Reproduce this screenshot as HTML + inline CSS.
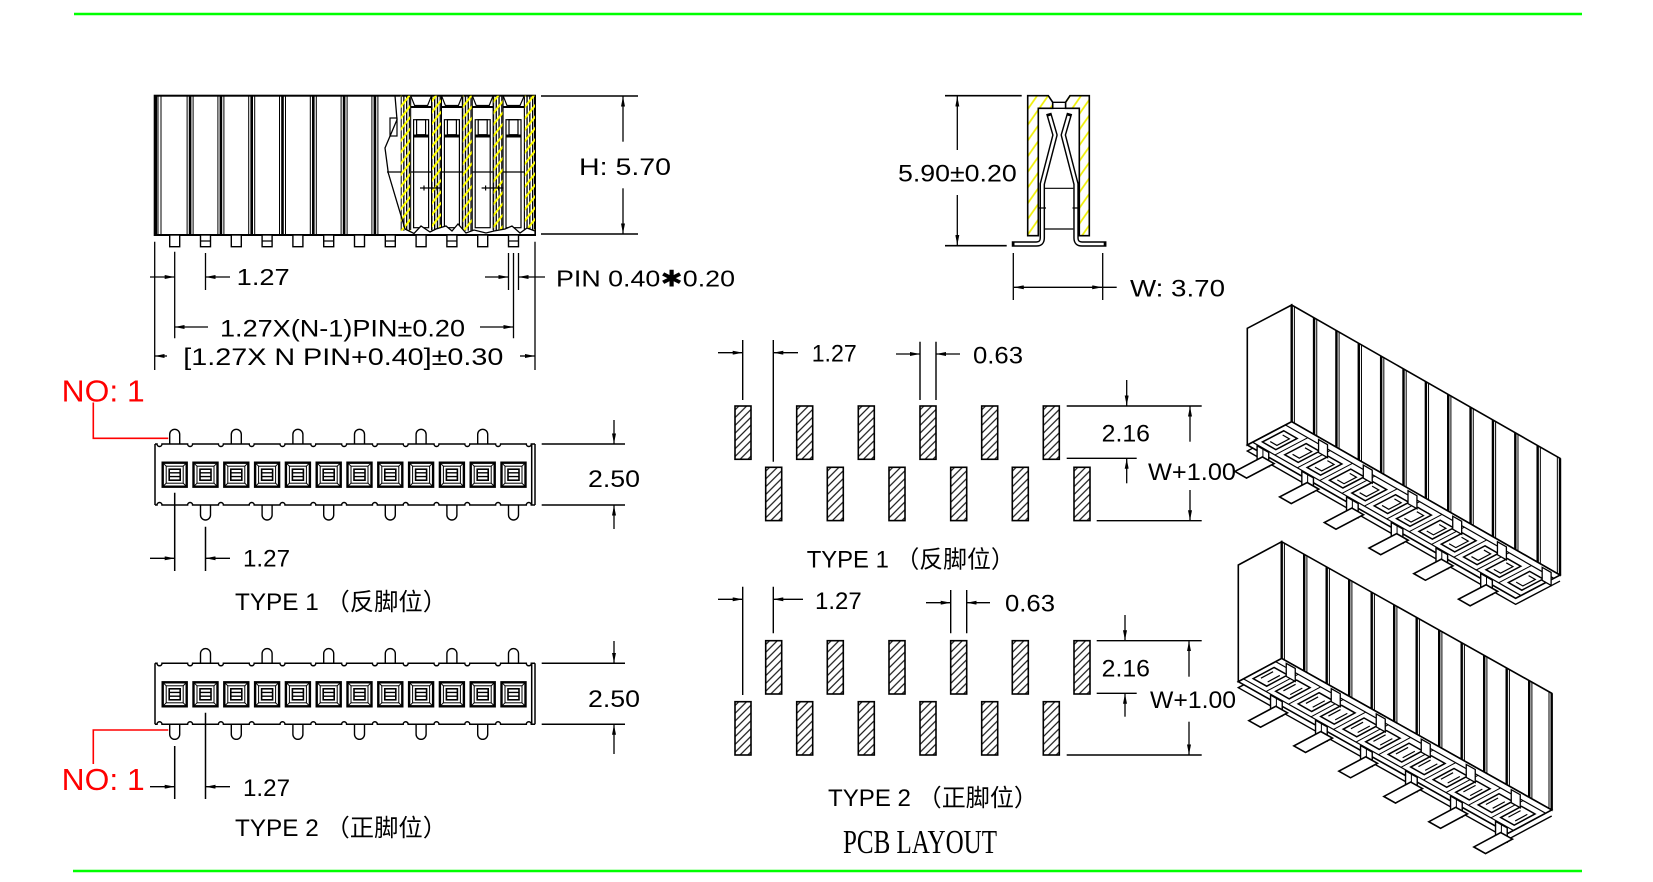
<!DOCTYPE html>
<html><head><meta charset="utf-8">
<style>
html,body{margin:0;padding:0;background:#fff}
svg{display:block}
.ns *{vector-effect:non-scaling-stroke}
</style></head>
<body>
<svg width="1653" height="882" viewBox="0 0 1653 882" xmlns="http://www.w3.org/2000/svg">
<defs>
  <marker id="ar" viewBox="0 0 10 4" refX="10" refY="2" markerWidth="10" markerHeight="4" markerUnits="userSpaceOnUse" orient="auto">
    <path d="M0,0 L10,2 L0,4 z" fill="#000"/>
  </marker>
  <pattern id="ph" width="5.5" height="5.5" patternUnits="userSpaceOnUse" patternTransform="rotate(45)">
    <line x1="2.75" y1="0" x2="2.75" y2="5.5" stroke="#000" stroke-width="1.1"/>
  </pattern>
  <pattern id="py" width="7" height="7" patternUnits="userSpaceOnUse" patternTransform="rotate(38)">
    <line x1="3.5" y1="0" x2="3.5" y2="7" stroke="#ffff00" stroke-width="2"/>
  </pattern>
  <pattern id="py2" width="9" height="9" patternUnits="userSpaceOnUse" patternTransform="rotate(35)">
    <line x1="4.5" y1="0" x2="4.5" y2="9" stroke="#f0f000" stroke-width="1.7"/>
  </pattern>
  <pattern id="pv" width="2.8" height="10" patternUnits="userSpaceOnUse">
    <rect x="0" y="0" width="1.3" height="10" fill="#000"/>
  </pattern>
  <g id="sk" stroke="#000" fill="none">
    <rect x="-12" y="-12" width="24" height="24" stroke-width="2.4" fill="#fff"/>
    <rect x="-8.5" y="-8.5" width="17" height="17" stroke-width="1"/>
    <path d="M-12,-12 L-8.5,-8.5 M12,-12 L8.5,-8.5 M-12,12 L-8.5,8.5 M12,12 L8.5,8.5" stroke-width="1"/>
    <rect x="-5.5" y="-5.5" width="11" height="11" stroke-width="1.6"/>
    <path d="M-5.5,-1.9 H5.5 M-5.5,1.9 H5.5" stroke-width="1.4"/>
  </g>
  <path id="pu" d="M-5,0 V-9.7 A5,5 0 0 1 5,-9.7 V0" fill="#fff" stroke="#000" stroke-width="1.4"/>
  <path id="pdn" d="M-5,0 V10 A5,5 0 0 0 5,10 V0" fill="#fff" stroke="#000" stroke-width="1.4"/>
  <rect id="fp" x="-5" y="0" width="10" height="11.7" fill="#fff" stroke="#000" stroke-width="1.4"/>
  <rect id="pd" x="0" y="0" width="16" height="53.3" fill="url(#ph)" stroke="#000" stroke-width="1.6"/>
  <path id="nt" fill="none" stroke="#000" stroke-width="1.5" d="M155,0 H157 a2.5,2.5 0 0 0 5,0 H187.6 a2.5,2.5 0 0 0 5,0 H218.4 a2.5,2.5 0 0 0 5,0 H249.2 a2.5,2.5 0 0 0 5,0 H280 a2.5,2.5 0 0 0 5,0 H310.8 a2.5,2.5 0 0 0 5,0 H341.6 a2.5,2.5 0 0 0 5,0 H372.4 a2.5,2.5 0 0 0 5,0 H403.2 a2.5,2.5 0 0 0 5,0 H434 a2.5,2.5 0 0 0 5,0 H464.8 a2.5,2.5 0 0 0 5,0 H495.6 a2.5,2.5 0 0 0 5,0 H526.3 a2.5,2.5 0 0 0 5,0 H535"/>
</defs>

<rect width="1653" height="882" fill="#fff"/>

<!-- green rules -->
<line x1="74" y1="14" x2="1582" y2="14" stroke="#00ff00" stroke-width="2.5"/>
<line x1="73" y1="871" x2="1582" y2="871" stroke="#00ff00" stroke-width="2.5"/>

<!-- ============ FRONT VIEW ============ -->
<g stroke="#000" fill="none">
  <rect x="154.7" y="95.7" width="380.3" height="139.3" stroke-width="2" fill="#fff"/>
  <path stroke-width="1" d="M158,95.7V235 M161,95.7V235 M187.1,95.7V235 M193.1,95.7V235 M217.9,95.7V235 M223.9,95.7V235 M248.7,95.7V235 M254.7,95.7V235 M279.5,95.7V235 M285.5,95.7V235 M310.3,95.7V235 M316.3,95.7V235 M341.1,95.7V235 M347.1,95.7V235 M371.9,95.7V235 M377.9,95.7V235"/>
  <path stroke-width="2.6" d="M155.8,95.7V235 M190.1,95.7V235 M220.9,95.7V235 M251.7,95.7V235 M282.5,95.7V235 M313.3,95.7V235 M344.1,95.7V235 M374.9,95.7V235"/>

  <!-- cutaway walls -->
  <g stroke="none">
    <rect x="400.7" y="95.7" width="10" height="135" fill="url(#pv)"/>
    <rect x="431.5" y="95.7" width="10" height="135" fill="url(#pv)"/>
    <rect x="462.3" y="95.7" width="10" height="135" fill="url(#pv)"/>
    <rect x="493.1" y="95.7" width="10" height="135" fill="url(#pv)"/>
    <rect x="524.3" y="95.7" width="10.7" height="137" fill="url(#pv)"/>
    <rect x="400.7" y="95.7" width="10" height="135" fill="url(#py)"/>
    <rect x="431.5" y="95.7" width="10" height="135" fill="url(#py)"/>
    <rect x="462.3" y="95.7" width="10" height="135" fill="url(#py)"/>
    <rect x="493.1" y="95.7" width="10" height="135" fill="url(#py)"/>
    <rect x="524.3" y="95.7" width="10.7" height="137" fill="url(#py)"/>
  </g>
  <path stroke-width="1" d="M410.7,95.7V230 M431.5,95.7V230 M441.5,95.7V230 M462.3,95.7V230 M472.3,95.7V230 M493.1,95.7V230 M503.1,95.7V230 M524.3,95.7V230"/>
  <!-- cavities -->
  <g stroke-width="1.2">
    <polyline points="410.7,95.7 414.6,105.5 427.6,105.5 431.5,95.7"/>
    <polyline points="441.5,95.7 445.4,105.5 458.4,105.5 462.3,95.7"/>
    <polyline points="472.3,95.7 476.2,105.5 489.2,105.5 493.1,95.7"/>
    <polyline points="503.1,95.7 507,105.5 520,105.5 524.3,95.7"/>
    <path stroke-width="2" d="M410.7,107H431.5 M441.5,107H462.3 M472.3,107H493.1 M503.1,107H524.3"/>
    <rect x="413.6" y="119.7" width="15" height="108"/>
    <rect x="444.4" y="119.7" width="15" height="108"/>
    <rect x="475.2" y="119.7" width="15" height="108"/>
    <rect x="506" y="119.7" width="15" height="108"/>
    <rect x="416.6" y="119.7" width="9" height="15"/>
    <rect x="447.4" y="119.7" width="9" height="15"/>
    <rect x="478.2" y="119.7" width="9" height="15"/>
    <rect x="509" y="119.7" width="9" height="15"/>
    <path stroke-width="3" d="M413.6,136H428.6 M444.4,136H459.4 M475.2,136H490.2 M506,136H521"/>
    <path d="M387,172H401 M410.7,172H431.5 M441.5,172H462.3 M472.3,172H493.1 M503.1,172H524.3"/>
    <path d="M420,188H442 M424,185.5V190.5 M437,185.5V190.5 M481.6,188H503.6 M485.6,185.5V190.5 M498.6,185.5V190.5"/>
    <rect x="390" y="118" width="7" height="18"/>
  </g>
  <polyline stroke-width="1.3" points="395,95.7 397,119.7 385,148 388.3,173 396.7,201.3 405,229"/>
  <polyline stroke-width="1.3" fill="#fff" points="405,229 414,233.5 421,226 430,232 436,229 446,226 452,231 458,224 466,233 474,230 486,233 494,231 505,229 512,226 520,233 527,228 535,231 535,235 405,235"/>
  <line x1="154.7" y1="235" x2="535" y2="235" stroke-width="2"/>

  <!-- pins below front -->
  <use href="#fp" x="174.7" y="235"/><use href="#fp" x="205.5" y="235"/><use href="#fp" x="236.3" y="235"/>
  <use href="#fp" x="267.1" y="235"/><use href="#fp" x="297.9" y="235"/><use href="#fp" x="328.7" y="235"/>
  <use href="#fp" x="359.5" y="235"/><use href="#fp" x="390.3" y="235"/><use href="#fp" x="421.1" y="235"/>
  <use href="#fp" x="451.9" y="235"/><use href="#fp" x="482.7" y="235"/><use href="#fp" x="513.5" y="235"/>
  <path stroke-width="1.2" d="M200.5,241h10 M262.1,241h10 M323.7,241h10 M385.3,241h10 M446.9,241h10 M508.5,241h10"/>

  <!-- front dims -->
  <path stroke-width="1.3" d="M154.7,241.7V370 M174.7,251.7V338.3 M205.5,253V290 M508.5,253V290 M513.5,253V338.3 M518.5,253V290 M535,241.7V370"/>
  <g stroke-width="1.3">
    <line x1="150" y1="277" x2="174.7" y2="277" marker-end="url(#ar)"/>
    <line x1="230" y1="277" x2="205.5" y2="277" marker-end="url(#ar)"/>
    <line x1="485" y1="277" x2="508.5" y2="277" marker-end="url(#ar)"/>
    <line x1="545" y1="277" x2="518.5" y2="277" marker-end="url(#ar)"/>
    <line x1="208" y1="327" x2="174.7" y2="327" marker-end="url(#ar)"/>
    <line x1="480" y1="327" x2="513.5" y2="327" marker-end="url(#ar)"/>
    <line x1="167" y1="356" x2="154.7" y2="356" marker-end="url(#ar)"/>
    <line x1="520" y1="356" x2="535" y2="356" marker-end="url(#ar)"/>
    <line x1="623" y1="141.7" x2="623" y2="96.5" marker-end="url(#ar)"/>
    <line x1="623" y1="188.3" x2="623" y2="233.5" marker-end="url(#ar)"/>
  </g>
  <path stroke-width="1.6" d="M541,96H638 M541,234H638"/>
</g>

<!-- ============ SIDE VIEW ============ -->
<g stroke="#000" fill="none">
  <path d="M1027.7,95.7 H1048.3 L1052.7,102.3 V108.3 H1038.3 V235.7 H1027.7 Z" fill="url(#py2)" stroke-width="1.6"/>
  <path d="M1070,95.7 H1089.3 V235.7 H1079.3 V108.3 H1065.6 V102.3 Z" fill="url(#py2)" stroke-width="1.6"/>
  <path d="M1052.7,102.3 H1065.6 M1052.7,108.3 H1065.6" stroke-width="1.3"/>
  <path d="M1049.5,116 L1055,135 L1042.3,184 V238 Q1042.3,244 1036.3,244 H1014.5" stroke-width="5.5" stroke-linecap="square" stroke-linejoin="round"/>
  <path d="M1068.8,116 L1063.3,135 L1076,184 V238 Q1076,244 1082,244 H1103.7" stroke-width="5.5" stroke-linecap="square" stroke-linejoin="round"/>
  <path d="M1049.5,116 L1055,135 L1042.3,184 V238 Q1042.3,244 1036.3,244 H1014.5" stroke="#fff" stroke-width="2.6" stroke-linejoin="round"/>
  <path d="M1068.8,116 L1063.3,135 L1076,184 V238 Q1076,244 1082,244 H1103.7" stroke="#fff" stroke-width="2.6" stroke-linejoin="round"/>
  <path d="M1045,188.3 H1073.3 M1045,229 H1073.3 M1039,208 H1046 M1072.5,208 H1079.5" stroke-width="1.2"/>
  <!-- dims -->
  <path stroke-width="1.6" d="M945,95.7H1021.7 M945,245.7H1006.7"/>
  <line x1="957.3" y1="150" x2="957.3" y2="96.5" stroke-width="1.3" marker-end="url(#ar)"/>
  <line x1="957.3" y1="195" x2="957.3" y2="245" stroke-width="1.3" marker-end="url(#ar)"/>
  <path stroke-width="1.3" d="M1013.3,253V300 M1102.7,253V300 M1102.7,287.3H1116.7"/>
  <line x1="1058" y1="287.3" x2="1013.8" y2="287.3" stroke-width="1.3" marker-end="url(#ar)"/>
  <line x1="1058" y1="287.3" x2="1102.2" y2="287.3" stroke-width="1.3" marker-end="url(#ar)"/>
</g>

<!-- ============ BOTTOM VIEW TYPE 1 ============ -->
<g stroke="#000" fill="none">
  <use href="#pu" x="174.7" y="444"/><use href="#pu" x="236.3" y="444"/><use href="#pu" x="297.9" y="444"/>
  <use href="#pu" x="359.5" y="444"/><use href="#pu" x="421.1" y="444"/><use href="#pu" x="482.7" y="444"/>
  <use href="#pdn" x="205.5" y="505"/><use href="#pdn" x="267.1" y="505"/><use href="#pdn" x="328.7" y="505"/>
  <use href="#pdn" x="390.3" y="505"/><use href="#pdn" x="451.9" y="505"/><use href="#pdn" x="513.5" y="505"/>
  <rect x="155" y="444" width="380" height="61" fill="#fff" stroke="none"/>
  <use href="#nt" y="444"/>
  <use href="#nt" transform="translate(0,505) scale(1,-1)"/>
  <path stroke-width="1.5" d="M155,444V505 M531.7,444V505 M535,444V505"/>
  <use href="#sk" x="174.7" y="474.7"/><use href="#sk" x="205.5" y="474.7"/><use href="#sk" x="236.3" y="474.7"/>
  <use href="#sk" x="267.1" y="474.7"/><use href="#sk" x="297.9" y="474.7"/><use href="#sk" x="328.7" y="474.7"/>
  <use href="#sk" x="359.5" y="474.7"/><use href="#sk" x="390.3" y="474.7"/><use href="#sk" x="421.1" y="474.7"/>
  <use href="#sk" x="451.9" y="474.7"/><use href="#sk" x="482.7" y="474.7"/><use href="#sk" x="513.5" y="474.7"/>
  <path stroke-width="1.5" d="M541.7,444H625 M541.7,505H625"/>
  <line x1="614" y1="420" x2="614" y2="443.5" stroke-width="1.3" marker-end="url(#ar)"/>
  <line x1="614" y1="529" x2="614" y2="505.5" stroke-width="1.3" marker-end="url(#ar)"/>
  <path stroke-width="1.5" d="M174.7,492.7V571 M205.5,526.7V571"/>
  <line x1="150" y1="558.3" x2="174.7" y2="558.3" stroke-width="1.3" marker-end="url(#ar)"/>
  <line x1="230" y1="558.3" x2="205.5" y2="558.3" stroke-width="1.3" marker-end="url(#ar)"/>
  <path d="M168.3,438.3 H93.3 V402.5" stroke="#ff0000" stroke-width="1.6"/>
</g>

<!-- ============ BOTTOM VIEW TYPE 2 ============ -->
<g stroke="#000" fill="none">
  <use href="#pu" x="205.5" y="663.3"/><use href="#pu" x="267.1" y="663.3"/><use href="#pu" x="328.7" y="663.3"/>
  <use href="#pu" x="390.3" y="663.3"/><use href="#pu" x="451.9" y="663.3"/><use href="#pu" x="513.5" y="663.3"/>
  <use href="#pdn" x="174.7" y="724.3"/><use href="#pdn" x="236.3" y="724.3"/><use href="#pdn" x="297.9" y="724.3"/>
  <use href="#pdn" x="359.5" y="724.3"/><use href="#pdn" x="421.1" y="724.3"/><use href="#pdn" x="482.7" y="724.3"/>
  <rect x="155" y="663.3" width="380" height="61" fill="#fff" stroke="none"/>
  <use href="#nt" y="663.3"/>
  <use href="#nt" transform="translate(0,724.3) scale(1,-1)"/>
  <path stroke-width="1.5" d="M155,663.3V724.3 M531.7,663.3V724.3 M535,663.3V724.3"/>
  <use href="#sk" x="174.7" y="694.3"/><use href="#sk" x="205.5" y="694.3"/><use href="#sk" x="236.3" y="694.3"/>
  <use href="#sk" x="267.1" y="694.3"/><use href="#sk" x="297.9" y="694.3"/><use href="#sk" x="328.7" y="694.3"/>
  <use href="#sk" x="359.5" y="694.3"/><use href="#sk" x="390.3" y="694.3"/><use href="#sk" x="421.1" y="694.3"/>
  <use href="#sk" x="451.9" y="694.3"/><use href="#sk" x="482.7" y="694.3"/><use href="#sk" x="513.5" y="694.3"/>
  <path stroke-width="1.5" d="M541.7,663.3H625 M541.7,724.3H625"/>
  <line x1="614" y1="641" x2="614" y2="662.8" stroke-width="1.3" marker-end="url(#ar)"/>
  <line x1="614" y1="754" x2="614" y2="724.8" stroke-width="1.3" marker-end="url(#ar)"/>
  <path stroke-width="1.5" d="M174.7,746V799 M205.5,712.7V799"/>
  <line x1="150" y1="786.7" x2="174.7" y2="786.7" stroke-width="1.3" marker-end="url(#ar)"/>
  <line x1="230" y1="786.7" x2="205.5" y2="786.7" stroke-width="1.3" marker-end="url(#ar)"/>
  <path d="M168.3,730 H93.3 V764" stroke="#ff0000" stroke-width="1.6"/>
</g>

<!-- ============ PCB LAYOUT ============ -->
<g stroke="#000" fill="none">
  <use href="#pd" x="735" y="406"/><use href="#pd" x="796.7" y="406"/><use href="#pd" x="858.3" y="406"/>
  <use href="#pd" x="920" y="406"/><use href="#pd" x="981.7" y="406"/><use href="#pd" x="1043.3" y="406"/>
  <use href="#pd" x="765.7" y="467.3"/><use href="#pd" x="827.3" y="467.3"/><use href="#pd" x="889" y="467.3"/>
  <use href="#pd" x="950.7" y="467.3"/><use href="#pd" x="1012.3" y="467.3"/><use href="#pd" x="1074" y="467.3"/>
  <path stroke-width="1.4" d="M742.7,340V400 M773.3,340V461.7 M920,341.7V400 M936,341.7V400 M1066.7,406H1201.7 M1066.7,458.3H1136.7 M1096.7,520.7H1201.7"/>
  <g stroke-width="1.3">
    <line x1="718" y1="352.7" x2="742.7" y2="352.7" marker-end="url(#ar)"/>
    <line x1="798" y1="352.7" x2="773.3" y2="352.7" marker-end="url(#ar)"/>
    <line x1="896" y1="354" x2="920" y2="354" marker-end="url(#ar)"/>
    <line x1="960" y1="354" x2="936" y2="354" marker-end="url(#ar)"/>
    <line x1="1126.7" y1="380" x2="1126.7" y2="405.5" marker-end="url(#ar)"/>
    <line x1="1126.7" y1="483.3" x2="1126.7" y2="458.8" marker-end="url(#ar)"/>
    <line x1="1190" y1="441.7" x2="1190" y2="406.5" marker-end="url(#ar)"/>
    <line x1="1190" y1="490" x2="1190" y2="520.2" marker-end="url(#ar)"/>
  </g>
  <use href="#pd" x="765.7" y="640.7"/><use href="#pd" x="827.3" y="640.7"/><use href="#pd" x="889" y="640.7"/>
  <use href="#pd" x="950.7" y="640.7"/><use href="#pd" x="1012.3" y="640.7"/><use href="#pd" x="1074" y="640.7"/>
  <use href="#pd" x="735" y="701.7"/><use href="#pd" x="796.7" y="701.7"/><use href="#pd" x="858.3" y="701.7"/>
  <use href="#pd" x="920" y="701.7"/><use href="#pd" x="981.7" y="701.7"/><use href="#pd" x="1043.3" y="701.7"/>
  <path stroke-width="1.4" d="M742.7,586.7V695 M773.3,586.7V633.3 M950.7,590V633.3 M966.7,590V633.3 M1096.7,640.7H1201.7 M1096.7,693.3H1136.7 M1066.7,755H1201.7"/>
  <g stroke-width="1.3">
    <line x1="718" y1="599.3" x2="742.7" y2="599.3" marker-end="url(#ar)"/>
    <line x1="803" y1="599.3" x2="773.3" y2="599.3" marker-end="url(#ar)"/>
    <line x1="926" y1="602.7" x2="950.7" y2="602.7" marker-end="url(#ar)"/>
    <line x1="990" y1="602.7" x2="966.7" y2="602.7" marker-end="url(#ar)"/>
    <line x1="1125" y1="615" x2="1125" y2="640.2" marker-end="url(#ar)"/>
    <line x1="1125" y1="716.7" x2="1125" y2="693.8" marker-end="url(#ar)"/>
    <line x1="1189" y1="676.7" x2="1189" y2="641.2" marker-end="url(#ar)"/>
    <line x1="1189" y1="721.7" x2="1189" y2="754.5" marker-end="url(#ar)"/>
  </g>
</g>

<!-- ============ 3D VIEW 1 ============ -->
<g class="ns" stroke="#000" fill="none">
  <g transform="matrix(-44.4,23.3,0,-1,1291.7,421.7)"><polygon points="0,0 1,0 1,116.7 0,116.7" fill="#fff" stroke-width="1.6"/></g>
  <g transform="matrix(22.36,12.78,0,-1,1291.7,421.7)">
    <polygon points="0,0 12,0 12,116.7 0,116.7" fill="#fff" stroke-width="1.6"/>
    <path stroke-width="2.4" d="M0,0V116.7M1,0V116.7M2,0V116.7M3,0V116.7M4,0V116.7M5,0V116.7M6,0V116.7M7,0V116.7M8,0V116.7M9,0V116.7M10,0V116.7M11,0V116.7M12,0V116.7"/>
    <path stroke-width="1" d="M0.12,0V116.7M1.12,0V116.7M2.12,0V116.7M3.12,0V116.7M4.12,0V116.7M5.12,0V116.7M6.12,0V116.7M7.12,0V116.7M8.12,0V116.7M9.12,0V116.7M10.12,0V116.7M11.12,0V116.7M11.88,0V116.7"/>
  </g>
  <g transform="matrix(22.36,12.78,-44.4,23.3,1291.7,427.7)"><path d="M0,0 V1 H12 V0" stroke-width="1.4" fill="#fff"/></g>
  <g transform="matrix(22.36,12.78,-44.4,23.3,1291.7,421.7)">
    <polygon points="0,0 12,0 12,1 0,1" fill="#fff" stroke-width="1.6"/>
    <path d="M0,0.14H12 M0,0.88H12" stroke-width="1.2"/>
    <path stroke-width="1.5" d="M0.2,0.28h0.6v0.48h-0.6z M1.2,0.28h0.6v0.48h-0.6z M2.2,0.28h0.6v0.48h-0.6z M3.2,0.28h0.6v0.48h-0.6z M4.2,0.28h0.6v0.48h-0.6z M5.2,0.28h0.6v0.48h-0.6z M6.2,0.28h0.6v0.48h-0.6z M7.2,0.28h0.6v0.48h-0.6z M8.2,0.28h0.6v0.48h-0.6z M9.2,0.28h0.6v0.48h-0.6z M10.2,0.28h0.6v0.48h-0.6z M11.2,0.28h0.6v0.48h-0.6z"/>
    <path stroke-width="1.2" d="M0.35,0.38h0.3v0.28h-0.3 M1.35,0.38h0.3v0.28h-0.3 M2.35,0.38h0.3v0.28h-0.3 M3.35,0.38h0.3v0.28h-0.3 M4.35,0.38h0.3v0.28h-0.3 M5.35,0.38h0.3v0.28h-0.3 M6.35,0.38h0.3v0.28h-0.3 M7.35,0.38h0.3v0.28h-0.3 M8.35,0.38h0.3v0.28h-0.3 M9.35,0.38h0.3v0.28h-0.3 M10.35,0.38h0.3v0.28h-0.3 M11.35,0.38h0.3v0.28h-0.3"/>
    <path stroke-width="1" d="M1,0.14V0.88 M2,0.14V0.88 M3,0.14V0.88 M4,0.14V0.88 M5,0.14V0.88 M6,0.14V0.88 M7,0.14V0.88 M8,0.14V0.88 M9,0.14V0.88 M10,0.14V0.88 M11,0.14V0.88"/>
  </g>
  <g transform="matrix(22.36,12.78,0,-1,1289.5,422.9)">
    <path fill="#fff" stroke-width="1.3" d="M1.3,0v-13h0.4v13z M3.3,0v-13h0.4v13z M5.3,0v-13h0.4v13z M7.3,0v-13h0.4v13z M9.3,0v-13h0.4v13z M11.3,0v-13h0.4v13z"/>
  </g>
  <g transform="matrix(22.36,12.78,0,-1,1251.74,442.67)">
    <path fill="#fff" stroke-width="1.4" d="M0.24,0v-14h0.52v14z M2.24,0v-14h0.52v14z M4.24,0v-14h0.52v14z M6.24,0v-14h0.52v14z M8.24,0v-14h0.52v14z M10.24,0v-14h0.52v14z"/>
    <path stroke-width="1" d="M0.5,0v-14 M2.5,0v-14 M4.5,0v-14 M6.5,0v-14 M8.5,0v-14 M10.5,0v-14"/>
  </g>
  <g transform="matrix(22.36,12.78,-44.4,23.3,1291.7,435.7)">
    <path fill="#fff" stroke-width="1.6" d="M0.24,0.78h0.52v0.62h-0.52z M2.24,0.78h0.52v0.62h-0.52z M4.24,0.78h0.52v0.62h-0.52z M6.24,0.78h0.52v0.62h-0.52z M8.24,0.78h0.52v0.62h-0.52z M10.24,0.78h0.52v0.62h-0.52z"/>
  </g>
</g>

<!-- ============ 3D VIEW 2 ============ -->
<g class="ns" stroke="#000" fill="none">
  <g transform="matrix(-43.4,23.3,0,-1,1281.7,658.4)"><polygon points="0,0 1,0 1,116.7 0,116.7" fill="#fff" stroke-width="1.6"/></g>
  <g transform="matrix(22.5,12.63,0,-1,1281.7,658.4)">
    <polygon points="0,0 12,0 12,116.7 0,116.7" fill="#fff" stroke-width="1.6"/>
    <path stroke-width="2.4" d="M0,0V116.7M1,0V116.7M2,0V116.7M3,0V116.7M4,0V116.7M5,0V116.7M6,0V116.7M7,0V116.7M8,0V116.7M9,0V116.7M10,0V116.7M11,0V116.7M12,0V116.7"/>
    <path stroke-width="1" d="M0.12,0V116.7M1.12,0V116.7M2.12,0V116.7M3.12,0V116.7M4.12,0V116.7M5.12,0V116.7M6.12,0V116.7M7.12,0V116.7M8.12,0V116.7M9.12,0V116.7M10.12,0V116.7M11.12,0V116.7M11.88,0V116.7"/>
  </g>
  <g transform="matrix(22.5,12.63,-43.4,23.3,1281.7,664.4)"><path d="M0,0 V1 H12 V0" stroke-width="1.4" fill="#fff"/></g>
  <g transform="matrix(22.5,12.63,-43.4,23.3,1281.7,658.4)">
    <polygon points="0,0 12,0 12,1 0,1" fill="#fff" stroke-width="1.6"/>
    <path d="M0,0.14H12 M0,0.88H12" stroke-width="1.2"/>
    <path stroke-width="1.5" d="M0.2,0.28h0.6v0.48h-0.6z M1.2,0.28h0.6v0.48h-0.6z M2.2,0.28h0.6v0.48h-0.6z M3.2,0.28h0.6v0.48h-0.6z M4.2,0.28h0.6v0.48h-0.6z M5.2,0.28h0.6v0.48h-0.6z M6.2,0.28h0.6v0.48h-0.6z M7.2,0.28h0.6v0.48h-0.6z M8.2,0.28h0.6v0.48h-0.6z M9.2,0.28h0.6v0.48h-0.6z M10.2,0.28h0.6v0.48h-0.6z M11.2,0.28h0.6v0.48h-0.6z"/>
    <path stroke-width="1.2" d="M0.35,0.38v0.28 M1.35,0.38v0.28 M2.35,0.38v0.28 M3.35,0.38v0.28 M4.35,0.38v0.28 M5.35,0.38v0.28 M6.35,0.38v0.28 M7.35,0.38v0.28 M8.35,0.38v0.28 M9.35,0.38v0.28 M10.35,0.38v0.28 M11.35,0.38v0.28 M0.65,0.38v0.28 M1.65,0.38v0.28 M2.65,0.38v0.28 M3.65,0.38v0.28 M4.65,0.38v0.28 M5.65,0.38v0.28 M6.65,0.38v0.28 M7.65,0.38v0.28 M8.65,0.38v0.28 M9.65,0.38v0.28 M10.65,0.38v0.28 M11.65,0.38v0.28"/>
    <path stroke-width="1" d="M1,0.14V0.88 M2,0.14V0.88 M3,0.14V0.88 M4,0.14V0.88 M5,0.14V0.88 M6,0.14V0.88 M7,0.14V0.88 M8,0.14V0.88 M9,0.14V0.88 M10,0.14V0.88 M11,0.14V0.88"/>
  </g>
  <g transform="matrix(22.5,12.63,0,-1,1279.5,659.6)">
    <path fill="#fff" stroke-width="1.3" d="M0.3,0v-13h0.4v13z M2.3,0v-13h0.4v13z M4.3,0v-13h0.4v13z M6.3,0v-13h0.4v13z M8.3,0v-13h0.4v13z M10.3,0v-13h0.4v13z"/>
  </g>
  <g transform="matrix(22.5,12.63,0,-1,1242.64,679.37)">
    <path fill="#fff" stroke-width="1.4" d="M1.24,0v-14h0.52v14z M3.24,0v-14h0.52v14z M5.24,0v-14h0.52v14z M7.24,0v-14h0.52v14z M9.24,0v-14h0.52v14z M11.24,0v-14h0.52v14z"/>
    <path stroke-width="1" d="M1.5,0v-14 M3.5,0v-14 M5.5,0v-14 M7.5,0v-14 M9.5,0v-14 M11.5,0v-14"/>
  </g>
  <g transform="matrix(22.5,12.63,-43.4,23.3,1281.7,672.4)">
    <path fill="#fff" stroke-width="1.6" d="M1.24,0.78h0.52v0.62h-0.52z M3.24,0.78h0.52v0.62h-0.52z M5.24,0.78h0.52v0.62h-0.52z M7.24,0.78h0.52v0.62h-0.52z M9.24,0.78h0.52v0.62h-0.52z M11.24,0.78h0.52v0.62h-0.52z"/>
  </g>
</g>

<!-- ============ TEXT ============ -->
<g font-family="'Liberation Sans','Noto Sans CJK SC',sans-serif" fill="#000" stroke="none">
  <text x="236.7" y="285" font-size="23" textLength="53" lengthAdjust="spacingAndGlyphs">1.27</text>
  <text x="556" y="286.7" font-size="23" textLength="179" lengthAdjust="spacingAndGlyphs">PIN 0.40✱0.20</text>
  <text x="220" y="336.5" font-size="24" textLength="245" lengthAdjust="spacingAndGlyphs">1.27X(N-1)PIN±0.20</text>
  <text x="183.3" y="365" font-size="24" textLength="320" lengthAdjust="spacingAndGlyphs">[1.27X N PIN+0.40]±0.30</text>
  <text x="579" y="175" font-size="24" textLength="92" lengthAdjust="spacingAndGlyphs">H: 5.70</text>
  <text x="898" y="181.5" font-size="24" textLength="118.7" lengthAdjust="spacingAndGlyphs">5.90±0.20</text>
  <text x="1130" y="296.7" font-size="24" textLength="95" lengthAdjust="spacingAndGlyphs">W: 3.70</text>
  <text x="61.7" y="401.7" font-size="31" fill="#ff0000" textLength="83" lengthAdjust="spacingAndGlyphs">NO: 1</text>
  <text x="588" y="487" font-size="24" textLength="52" lengthAdjust="spacingAndGlyphs">2.50</text>
  <text x="243" y="566.7" font-size="24" textLength="47" lengthAdjust="spacingAndGlyphs">1.27</text>
  <text x="235" y="610" font-size="24" textLength="212" lengthAdjust="spacingAndGlyphs">TYPE 1 （反脚位）</text>
  <text x="588" y="707" font-size="24" textLength="52" lengthAdjust="spacingAndGlyphs">2.50</text>
  <text x="61.7" y="790" font-size="31" fill="#ff0000" textLength="83" lengthAdjust="spacingAndGlyphs">NO: 1</text>
  <text x="243" y="796" font-size="24" textLength="47" lengthAdjust="spacingAndGlyphs">1.27</text>
  <text x="235" y="836" font-size="24" textLength="212" lengthAdjust="spacingAndGlyphs">TYPE 2 （正脚位）</text>
  <text x="811.7" y="361.5" font-size="24" textLength="45" lengthAdjust="spacingAndGlyphs">1.27</text>
  <text x="973" y="363.3" font-size="24" textLength="50" lengthAdjust="spacingAndGlyphs">0.63</text>
  <text x="1101.7" y="441.7" font-size="24" textLength="48.3" lengthAdjust="spacingAndGlyphs">2.16</text>
  <text x="1148" y="480" font-size="24" textLength="88" lengthAdjust="spacingAndGlyphs">W+1.00</text>
  <text x="806.7" y="567.3" font-size="24" textLength="208" lengthAdjust="spacingAndGlyphs">TYPE 1 （反脚位）</text>
  <text x="815" y="609" font-size="24" textLength="46.7" lengthAdjust="spacingAndGlyphs">1.27</text>
  <text x="1005" y="611.5" font-size="24" textLength="50" lengthAdjust="spacingAndGlyphs">0.63</text>
  <text x="1101.7" y="676.5" font-size="24" textLength="48.3" lengthAdjust="spacingAndGlyphs">2.16</text>
  <text x="1150" y="708" font-size="24" textLength="86" lengthAdjust="spacingAndGlyphs">W+1.00</text>
  <text x="828" y="806" font-size="24" textLength="210" lengthAdjust="spacingAndGlyphs">TYPE 2 （正脚位）</text>
  <text transform="translate(843,853) scale(1,1.45)" x="0" y="0" font-family="'Liberation Serif',serif" font-size="23" textLength="154" lengthAdjust="spacingAndGlyphs">PCB LAYOUT</text>
</g>
</svg>
</body></html>
